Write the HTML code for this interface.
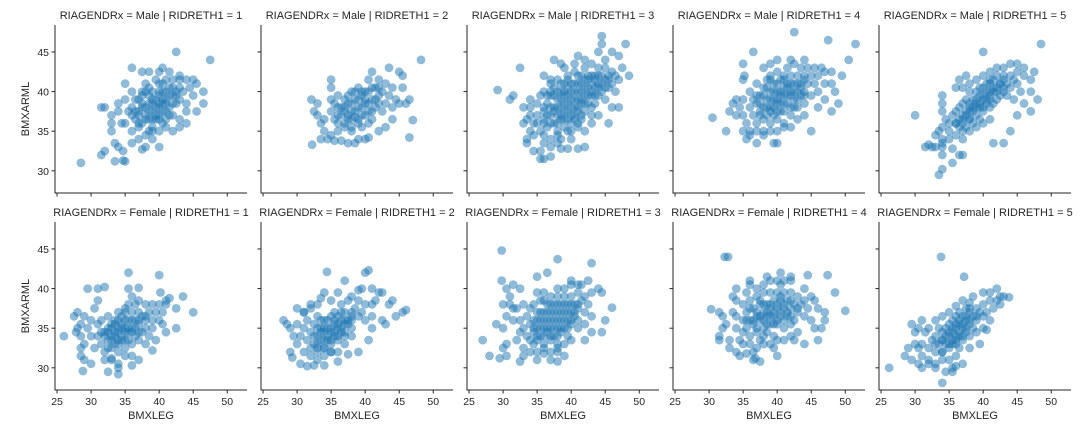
<!DOCTYPE html>
<html><head><meta charset="utf-8">
<style>
body{margin:0;background:#fff;}
svg{display:block;font-family:"Liberation Sans","DejaVu Sans",sans-serif;}
</style></head>
<body>
<svg id="chart" width="1088" height="432" viewBox="0 0 1088 432"></svg>
<script>
const panelTitles=["RIAGENDRx = Male | RIDRETH1 = 1","RIAGENDRx = Male | RIDRETH1 = 2","RIAGENDRx = Male | RIDRETH1 = 3","RIAGENDRx = Male | RIDRETH1 = 4","RIAGENDRx = Male | RIDRETH1 = 5","RIAGENDRx = Female | RIDRETH1 = 1","RIAGENDRx = Female | RIDRETH1 = 2","RIAGENDRx = Female | RIDRETH1 = 3","RIAGENDRx = Female | RIDRETH1 = 4","RIAGENDRx = Female | RIDRETH1 = 5"];
const xTicks=[25,30,35,40,45,50];
const yTicks=[30,35,40,45];
const xLabel="BMXLEG";
const yLabel="BMXARML";
const m1=[[28.5,31],[31.5,32],[32,32.5],[33.5,31.2],[34.7,31.3],[35,31.2],[33.5,33.5],[34,33],[34.7,32.5],[31.5,38],[32,38],[33,37],[36,43],[37.5,42.5],[38.5,42.5],[40.5,43],[42.5,45],[47.5,44],[46.5,40],[46.5,38.5],[45.5,37.5],[44,36],[43,35.5],[40,33],[38,33],[37.5,32.7],[35,41],[36,40],
[35,36],[35.5,37.5],[36,38],[36,35],[36.5,36.5],[37,39],[37,37],[37,35.5],[37.5,38],[37.5,36],[38,40],[38,37],[38,34.5],[38.5,38.5],[38.5,36.5],[39,40],[39,39],[39,37.5],[39,35.5],[39.5,38],[39.5,36.5],[40,41],[40,39.5],[40,38],[40,37],[40,35],[40.5,40],[40.5,38.5],[41,41.5],[41,39],[41,37.5],[41.5,40.5],[41.5,38],[42,41.5],[42,39.5],[42,37],[42.5,40],[42.5,38.5],[43,41.5],[43,39],[43.5,40],[44,41.5],[44,38.5],[44.5,40.5],[45,41.5],[45,39.5],[36.5,39],[38,41],[39.5,41.5],[41,35.5],[42,35],[36,37],[34.5,36],[34,37.5],[33,36],[33,35],[34,38.5],[35,39],[44,37.5],[43,36.5],[38.5,35],[37,34],[36,33.5],[39,34],[40.5,36],[37.5,40],[41.5,42.5],[43,42],[45.5,41],[40,42.5]];
const m1Core=[[37,37.5],[37.5,38.5],[38,36.5],[38,38],[38.5,39.5],[38.5,37.5],[39,36.5],[39,38.5],[39.5,37],[39.5,39],[40,38.5],[40,36.5],[40.5,39],[40.5,37.5],[41,38.5],[41,40],[41.5,39.5],[41.5,37],[42,38.5],[42,40.5],[38.5,40.5],[37.5,39.5],[36.5,37.5],[37,36],[40,40],[39,35],[42.5,39.5],[43,40.5],[40.5,41],[41,36.5]];
const m2=[[32.1,39],[33,38.5],[33,37],[33.5,36],[32.5,37.5],[34,36.5],[34,35],[33.5,34],[34.5,34],[35,34.5],[35.5,33.8],[36,35],[36.5,33.8],[37.5,33.5],[38.5,33.5],[39,34],[40,34],[40.5,34.2],[32.2,33.3],[35,37.5],[35.5,38.5],[35,39],[36,37],[36,39.5],[36.5,38],[37,36],[37,37.5],[37,39],[37.5,38.5],[37.5,36.5],[38,40],[38,37.5],[38,35.5],[38.5,39],[38.5,36.8],[39,38],[39,40.5],[39.5,39.5],[39.5,37],[39.5,35.5],[40,38.5],[40,40],[40.5,41.5],[40.5,37.5],[41,39],[41,36.5],[41.5,40.5],[41.5,38],[42,41.5],[42,39.5],[42.5,37.5],[42.5,40],[43,41],[43,38.5],[43.5,39.5],[44,38],[44,40.5],[44.5,39],[45,38.5],[45.5,40.5],[46,38.5],[46.5,39],[44,36.5],[43,35.5],[42,35],[41,42.5],[43.5,43],[45,42.5],[45.5,42],[35,41.5],[35,40.5],[48.2,44],[46.5,34.2],[47,36.4],[36,36],[39,36],[40.5,36]];
const m2Core=[[36.5,37],[37,38],[37.5,37],[37.5,39.5],[38,36.5],[38,38.5],[38.5,37.5],[38.5,40],[39,36.5],[39,39],[39.5,38],[39.5,40],[40,37],[40,39],[40.5,38.5],[40.5,40],[41,37.5],[41,40.5],[41.5,39],[42,38.5],[36,38],[35.5,36.5],[37,35.5],[38,35],[42,40.5]];
const m3=[[29.2,40.2],[32.5,43],[31,39],[31.5,39.5],[33,38],[33,36],[34,35],[33.5,34],[33.5,33.5],[34.5,32.5],[35.5,32.5],[35.5,31.5],[36,31.5],[37,31.8],[38.5,32.8],[39.5,32.8],[41,32.8],[42,33],[44.5,46],[44.5,47],[44,45],[45,44],[46,45],[48,46],[47,44.5],[48.5,42],[47.5,43],[46.5,40],[47,38],[45.5,36],[37.5,44],[38.5,43.5],[36,42],[37,41.5],
[35,37],[35,38.5],[35,36],[35.5,39.5],[35.5,35],[36,37.5],[36,40],[36,36.5],[36,34.5],[36.5,38.5],[36.5,35.5],[37,37],[37,39.5],[37,41],[37,34],[37.5,38],[37.5,36],[37.5,40.5],[38,37],[38,39],[38,35],[38,41.5],[38.5,38],[38.5,36.5],[38.5,40],[38.5,34],[39,37.5],[39,39.5],[39,41],[39,35.5],[39.5,38.5],[39.5,36.5],[39.5,40.5],[39.5,42],[40,37],[40,39],[40,41],[40,35],[40.5,38],[40.5,40],[40.5,36.5],[40.5,42.5],[41,39],[41,37.5],[41,41],[41,35.5],[41.5,40],[41.5,38.5],[41.5,42],[41.5,36.5],[42,39.5],[42,41.5],[42,37.5],[42,43],[42.5,40.5],[42.5,38.5],[42.5,42],[43,39.5],[43,41],[43,37],[43,43.5],[43.5,40.5],[43.5,42],[43.5,38.5],[44,41],[44,39.5],[44,43],[44.5,42],[44.5,40],[45,41.5],[45,43],[45,39],[45.5,42],[45.5,40.5],[46,42.5],[46,41],[46.5,42],[47,41.5],[34,37],[34,39],[34.5,36],[34,38],[33.5,36.5],[34.5,34.5],[36,33.5],[37,33],[38,33.5],[40,34],[42,35],[43,36],[44,37],[46,38],[42,44],[40.5,43.5],[39,43],[41,44.5]];
const m3Core=[[36,38],[36.5,37],[36.5,39.5],[37,36],[37,38],[37.5,37.5],[37.5,39.5],[38,36],[38,38],[38,40],[38.5,37],[38.5,39],[38.5,41],[39,36.5],[39,38.5],[39,40],[39.5,37.5],[39.5,39.5],[39.5,41.5],[40,36],[40,38],[40,40],[40.5,37],[40.5,39],[40.5,41],[41,38],[41,40],[41,42],[41.5,37],[41.5,39],[41.5,41],[42,38.5],[42,40.5],[42.5,39.5],[42.5,41.5],[43,38],[43,40],[43,42],[43.5,39.5],[43.5,41.5],[44,40.5],[44,42],[44.5,41],[45,40.5],[45.5,41.5],[37,40],[36,36],[38,34.5],[39.5,35],[41,36]];
const m4=[[30.5,36.7],[32.5,35],[33,37.5],[33.5,38.5],[34,37],[35,41.5],[35.2,42],[35,43.5],[36.5,45],[42.5,47.5],[47.5,46.5],[51.5,46],[50.5,44],[49.5,42],[48.5,40],[49,38.5],[48,37.5],[37,33.5],[38,34.5],[39.5,33.5],[40,33.5],[35,35],[35.5,34],[36,34.5],[45,35],
[36,38],[36,40],[36.5,37],[36.5,39],[37,41],[37,38.5],[37,36],[37.5,39.5],[37.5,37.5],[38,40.5],[38,38],[38,36.5],[38.5,39],[38.5,41.5],[38.5,37],[39,40],[39,38],[39,36],[39,42],[39.5,39],[39.5,41],[39.5,37],[40,40],[40,38.5],[40,42.5],[40,36.5],[40.5,39.5],[40.5,41.5],[40.5,37.5],[41,40.5],[41,38.5],[41,42],[41,36],[41.5,39.5],[41.5,41],[41.5,43],[42,40],[42,38],[42,42],[42,37],[42.5,41],[42.5,39],[42.5,43.5],[43,40],[43,42],[43,38],[43.5,41],[43.5,43],[43.5,39.5],[44,42],[44,40],[44,38.5],[44.5,41],[44.5,43],[45,42],[45,39.5],[45.5,41],[45.5,43],[46,42],[46,40],[46.5,43],[47,41],[47,42.5],[48,41],[48,42.5],[35,39],[35,37],[34.5,38],[34,39],[35.5,36],[36,35],[37,35],[38,35],[39,35],[40,35],[41,35.5],[42,35.5],[43,36.5],[44,37],[46,38],[47,39],[38,43],[39,43.5],[40,44],[42,44],[44,44]];
const m4Core=[[37.5,38.5],[38,39.5],[38.5,38],[38.5,40.5],[39,39],[39,37.5],[39.5,40],[39.5,38],[40,39],[40,41],[40,37.5],[40.5,40],[40.5,38.5],[41,39.5],[41,41.5],[41,37.5],[41.5,40.5],[41.5,38.5],[42,39.5],[42,41],[42.5,40],[42.5,38],[43,41],[43,39],[43.5,40.5],[44,39.5],[44,41.5],[39,41.5],[37,39.5],[37.5,37]];
const m5=[[30,37],[32,33.3],[31.5,33],[33.5,29.5],[34,30.2],[35.5,31],[34,32],[34,33],[35.5,32.8],[36.5,32],[37,32],[34,37.5],[34,38.5],[34,39.5],[36,40.5],[36.5,41.5],[37.5,42],[40,45],[48.5,46],[47.5,42.5],[48,39],[47,40],[47,37.5],[44,35],[43,33.5],[41.5,33.5],[45,37],[46,38.5],[44.5,39],
[35,36],[35,35],[35.5,37],[36,36],[36,34.5],[36,37.5],[36.5,35.5],[36.5,38],[37,36.5],[37,35],[37,38.5],[37.5,37],[37.5,39],[37.5,35.5],[38,38],[38,36.5],[38,40],[38.5,37.5],[38.5,39],[38.5,36],[39,38.5],[39,40],[39,37],[39.5,39.5],[39.5,38],[39.5,36.5],[40,39],[40,40.5],[40,37.5],[40.5,40],[40.5,38.5],[40.5,41],[41,39.5],[41,41],[41,38],[41.5,40],[41.5,41.5],[41.5,38.5],[42,40.5],[42,39],[42,42],[42.5,41],[42.5,39.5],[43,40.5],[43,42],[43.5,41],[43.5,39.5],[44,42],[44,40.5],[44.5,41.5],[45,42.5],[45,41],[45.5,40],[46,42],[46,43],[47,41.5],[34,35.5],[34,34],[33.5,35],[34.5,36.5],[33,33],[32.5,33],[33,34.5],[34,33.5],[35,34],[37,34],[38,35],[39,35.5],[40,36],[41,36.5],[37,40.5],[38,41],[39,41.5],[40,42],[41,42.5],[42,43],[43,43],[44,43.5],[45,43.5]];
const m5Core=[[36,36],[36.5,36.5],[37,37],[37.5,37.5],[38,37.5],[38,38.5],[38.5,38],[39,38],[39,39],[39.5,38.5],[40,39.5],[40,38],[40.5,39],[41,40],[41,39],[41.5,40.5],[42,40],[42.5,41],[43,41.5],[37,36],[38,36.5],[39.5,40.5],[41,41.5],[43,40]];
const f1=[[26,34],[27.5,36.5],[27.8,34.5],[28,35],[28.5,32.5],[28.5,31.5],[29,31],[28.8,29.6],[30,30.5],[29.5,40],[31,40],[31,38.5],[32,40.2],[35.5,42],[35.5,40],[37,40.1],[40,41.7],[40.2,39.5],[41,38.5],[41.5,38.8],[42.5,37.5],[43.5,39],[45,37],[42.5,35],[41,34.5],[39,32.2],[36,30.3],[34,29.2],[34,30],[32.5,29.5],[33,31.2],[40.5,35.5],[39.5,33.5],
[31,34],[31,35.5],[31.5,33],[31.5,36],[32,34.5],[32,32],[32.5,35],[32.5,33.5],[32.5,36.5],[33,34],[33,35.5],[33,32.5],[33.5,34.5],[33.5,36],[33.5,33],[34,35],[34,33.5],[34,37],[34,32],[34.5,34],[34.5,35.5],[34.5,36.5],[35,35],[35,33.5],[35,37.5],[35,32.5],[35.5,34.5],[35.5,36],[35.5,38],[36,35],[36,33],[36,37],[36.5,34],[36.5,36],[36.5,38],[37,35.5],[37,33.5],[37,37],[37.5,36.5],[37.5,34.5],[38,36],[38,38],[38,35],[38.5,37],[38.5,34],[39,36],[39,38],[39,35],[39.5,37],[40,38],[40,36],[40.5,37],[41,38],[30,34],[30,36],[29.5,35],[30.5,32.5],[30.5,37.5],[29,33],[28.5,34],[29,36.5],[28,37],[28.5,35.5],[33,31],[32,31],[35,31.5],[34,30.5],[36,31.5],[37,31],[38,33],[36,39],[37,38.5]];
const f1Core=[[32,34],[32.5,34.5],[33,33.5],[33,35],[33.5,34],[33.5,35.5],[34,34.5],[34,36],[34,33],[34.5,35],[34.5,33.5],[35,34.5],[35,36],[35.5,35],[35.5,33.5],[36,34.5],[36,36],[36.5,35],[37,36],[37,34.5],[32.5,32.5],[31.5,34.5],[35,37],[38,36.5]];
const f2=[[28,36],[28.5,35.5],[29,35],[29.5,34],[29,32],[29.3,31.3],[30.5,30.5],[31.5,30.2],[32.5,30.3],[34,30.3],[36,30.8],[37.5,31.7],[39,32],[40.5,33.5],[41,35],[43,35.5],[44.5,36.5],[45.5,37],[46,37.3],[42.5,36],[41.5,38.5],[42,39.5],[42.5,39.5],[44,38.5],[43.5,38],[34.4,42.1],[37,41],[39.5,40],[40,42],[40.5,42.3],[41,40],[30,37.5],[31,37],[32,38],[33.5,38.8],[34,39.5],
[31,35],[31.5,33.5],[31.5,36],[32,34.5],[32,32.5],[32.5,35.5],[32.5,33],[33,34],[33,36.5],[33,32],[33.5,35],[33.5,33.5],[34,34.5],[34,36],[34,32.5],[34.5,35],[34.5,33.5],[35,34.5],[35,36.5],[35,33],[35.5,35.5],[35.5,34],[35.5,37],[36,35],[36,33.5],[36,36.5],[36.5,34.5],[36.5,36],[36.5,38],[37,35.5],[37,37],[37,34],[37.5,36],[37.5,38.5],[38,35],[38,37],[38,36],[38.5,37.5],[39,36.5],[39,38.5],[39.5,37],[40,38],[40,36],[41,38],[41,36.5],[30.5,34],[30,35.5],[30,33],[31,32],[32,31.5],[33,31],[34,31.5],[35,32],[36,32],[37,33],[38,34],[31,37],[32,37.5],[33,38],[35,38.5],[36,39.5],[38,39],[39,39.8]];
const f2Core=[[32.5,34],[33,35],[33,33],[33.5,34.5],[33.5,36],[34,33.5],[34,35],[34.5,34],[34.5,36],[35,35],[35,33.5],[35.5,34.5],[35.5,36],[36,34],[36,35.5],[36.5,35],[36.5,37],[37,36],[37,34.5],[37.5,35.5],[38,36.5],[34,32.5],[35,32],[33,32.5]];
const f3=[[27,33.5],[29,35.5],[28,31.5],[29.5,31.2],[30.5,31.5],[30,32.5],[30.5,33],[30,35],[30.5,36.5],[29.8,44.8],[29.8,41],[30.5,40],[31.5,40.5],[32.5,40],[30,38],[31,39],[38,43.7],[43,43.2],[36.5,42],[35,41.5],[40,41],[41.5,40.5],[42.5,41],[44,40],[44.5,39.5],[46,37.6],[45,36],[44.5,34.5],[43,34.5],[35,31],[37,31],[33,31.5],[32.5,30.8],[38,30.8],[39,31.5],[42,33.5],
[33,35],[33.5,36.5],[33.5,34],[34,37.5],[34,35.5],[34,33.5],[34.5,36],[34.5,34.5],[34.5,38],[35,35],[35,37],[35,33.5],[35.5,36],[35.5,38.5],[35.5,34],[36,35],[36,37],[36,33],[36.5,36],[36.5,38],[36.5,34.5],[37,35],[37,37],[37,39],[37,33.5],[37.5,36],[37.5,38],[37.5,34],[38,35],[38,37],[38,39],[38,33],[38.5,36],[38.5,38],[38.5,34.5],[39,37],[39,35],[39,39],[39.5,36],[39.5,38],[39.5,34],[40,37],[40,39],[40,35.5],[40.5,38],[40.5,36.5],[41,37.5],[41,39.5],[41.5,38.5],[42,37],[42,39],[42.5,38],[43,39.5],[32.5,36],[32,37.5],[32.5,34.5],[33,38],[31.5,36],[32,33.5],[33,32.5],[34,32],[35,32],[36,31.8],[37,32],[38,32],[39,33],[40,33.5],[41,35],[42,35.5],[36,39.5],[35,39.5],[38,40],[39,40],[40,40.5],[41,40.5],[43,36.5],[31.5,37.5],[31,38]];
const f3Core=[[34.5,35],[35,36],[35,34],[35.5,35],[35.5,37],[36,36],[36,34],[36.5,35],[36.5,37],[37,36],[37,34],[37,38],[37.5,35],[37.5,37],[38,36],[38,34],[38,38],[38.5,35],[38.5,37],[39,36],[39,38],[39.5,35],[39.5,37],[40,36],[40,38],[40.5,37],[41,36],[41,38],[36,38.5],[34.5,33],[36,32.5],[38,32.5]];
const f4=[[30.3,37.4],[31.5,37],[32,36.5],[32,35],[32.5,35.5],[31.5,34],[31.5,33.5],[33,33.5],[33,32.5],[34,32],[34.5,31.5],[35.5,31.8],[36.5,31],[36.8,31.2],[37.5,30.8],[36.5,32],[39.5,32.5],[40,31.5],[42.5,33.5],[44,33],[46,33.5],[45.5,35],[46.5,35],[47,36],[47,37],[50,37.2],[48.5,39.5],[47.4,41.7],[44.5,41.7],[42,41.5],[40.5,42],[38.5,41.5],[36,41],[34,40],[33.5,39],[32.3,44],[32.8,44],[36,40.5],
[35,36],[35,38],[35,34.5],[35.5,37],[35.5,35],[36,38.5],[36,36],[36,34],[36.5,37.5],[36.5,35.5],[37,39],[37,36.5],[37,34.5],[37.5,38],[37.5,36],[37.5,33.5],[38,37],[38,39.5],[38,35],[38.5,38],[38.5,36.5],[38.5,34.5],[39,37.5],[39,39.5],[39,35.5],[39.5,38.5],[39.5,36.5],[39.5,34],[40,37.5],[40,39.5],[40,35.5],[40.5,38.5],[40.5,36.5],[40.5,40.5],[41,37.5],[41,39.5],[41,35],[41.5,38.5],[41.5,36.5],[42,37.5],[42,39.5],[42,35.5],[42.5,38],[42.5,36],[43,37],[43,39],[43.5,38],[44,36.5],[44,38.5],[44.5,37.5],[45,39],[45,36],[34,36.5],[34,38.5],[34,35],[33.5,37],[34.5,33.5],[35,33],[36,33],[37,32.5],[38,33],[39,33],[40,33.5],[41,33.5],[42,34],[43,34.5],[35.5,39.5],[37,40],[38,40.5],[39,41],[40,41],[41,41],[42,41],[44,40],[45.5,38.5],[46,37.5]];
const f4Core=[[36.5,36],[37,37],[37,35],[37.5,36.5],[37.5,38.5],[38,36],[38,38],[38.5,37],[38.5,35.5],[39,36.5],[39,38],[39.5,37],[39.5,35.5],[40,38],[40,36],[40.5,37],[40.5,39],[41,36],[41,38],[41.5,37],[42,36.5],[42,38.5],[43,37.5],[36,37.5],[35.5,36],[38,34]];
const f5=[[26.2,30],[28.5,31.5],[29,32.5],[30,34.5],[29.5,35.5],[31,36],[30.5,35],[33.8,44],[37.2,41.5],[38.5,39],[40,39.5],[41,39.5],[42,40],[43.8,38.9],[43,39],[42.5,38],[41,36],[40.5,34.8],[39.5,33],[38,32.5],[36,30.2],[35.5,29.5],[33,30],[34,28.1],[32,30.5],[31,30],[33,30.5],
[32,32.5],[32.5,33.5],[33,32],[33,34],[33.5,33],[33.5,35],[34,33.5],[34,34.5],[34,32],[34.5,35],[34.5,33],[35,34],[35,35.5],[35,32.5],[35.5,34.5],[35.5,36],[35.5,33],[36,35],[36,33.5],[36,36.5],[36.5,34],[36.5,35.5],[36.5,37],[37,35],[37,36.5],[37,33.5],[37.5,36],[37.5,34.5],[37.5,37.5],[38,35.5],[38,37],[38,34],[38.5,36.5],[38.5,35],[39,37.5],[39,36],[39.5,37],[40,36.5],[40,38],[40.5,37],[41,38.5],[41.5,37.5],[42,38.5],[42.5,39],[31,33],[31,31.5],[30.5,32.5],[31.5,34.5],[32,35],[33,36],[34,36.5],[35,37],[36,37.8],[37,38.5],[38,38.2],[34,31],[35,31],[36,31.5],[36.5,32.5],[37,30.5],[35.5,30],[34.5,29.5],[39,34.5],[40,35],[32,31],[30,33],[29.5,31],[30.5,30.5]];
const f5Core=[[34,33.5],[34.5,34],[35,33],[35,34.5],[35.5,35],[35.5,33.5],[36,34],[36,35.5],[36.5,34.5],[36.5,36],[37,35.5],[37,34],[37.5,35],[37.5,36.5],[38,36],[38,37.5],[39,36.5],[33,33],[34,32],[36,33]];
const panelData=[m1.concat(m1Core),m2.concat(m2Core),m3.concat(m3Core),m4.concat(m4Core),m5.concat(m5Core),f1.concat(f1Core),f2.concat(f2Core),f3.concat(f3Core),f4.concat(f4Core),f5.concat(f5Core)];

const NS="http://www.w3.org/2000/svg";
const svg=document.getElementById('chart');
function mk(tag,attrs,parent){const e=document.createElementNS(NS,tag);for(const k in attrs)e.setAttribute(k,attrs[k]);(parent||svg).appendChild(e);return e;}
const X0=55,XW=192,COLSTEP=206,Y0=25,YH=168,ROWSTEP=197;
const XMIN=24.7,XMAX=52.9,YMIN=27.2,YMAX=48.4;
function xs(v,c){return X0+c*COLSTEP+(v-XMIN)/(XMAX-XMIN)*XW;}
function ys(v,r){return Y0+r*ROWSTEP+YH-(v-YMIN)/(YMAX-YMIN)*YH;}

for(let i=0;i<10;i++){
  const r=Math.floor(i/5),c=i%5;
  const g=mk('g',{});
  
  
  const t=mk('text',{x:X0+c*COLSTEP+XW/2,y:Y0+r*ROWSTEP-6,'text-anchor':'middle','font-size':'11',fill:'#262626'},g);
  t.textContent=panelTitles[i];
  
  
  const pts=mk('g',{fill:'#1f77b4','fill-opacity':'0.5'},g);
  
  
  panelData[i].forEach(p=>{
    const cc=mk('circle',{cx:xs(p[0],c).toFixed(1),cy:ys(p[1],r).toFixed(1),r:4.4},pts);
    
    
  });
  const ax=mk('path',{d:`M${X0+c*COLSTEP},${Y0+r*ROWSTEP}V${Y0+r*ROWSTEP+YH}H${X0+c*COLSTEP+XW}`,stroke:'#262626','stroke-width':1,fill:'none'},g);
  
  
  xTicks.forEach(v=>{
    const x=xs(v,c),yb=Y0+r*ROWSTEP+YH;
    const tk=mk('line',{x1:x,x2:x,y1:yb,y2:yb+3.5,stroke:'#262626','stroke-width':1},g);
    
    
    if(r===1){
      const lb=mk('text',{x:x,y:yb+15,'text-anchor':'middle','font-size':'10.5',fill:'#262626'},g);
      lb.textContent=v;
      
      
    }
  });
  yTicks.forEach(v=>{
    const y=ys(v,r),xl=X0+c*COLSTEP;
    const tk=mk('line',{x1:xl-3.5,x2:xl,y1:y,y2:y,stroke:'#262626','stroke-width':1},g);
    
    
    if(c===0){
      const lb=mk('text',{x:xl-6,y:y+4,'text-anchor':'end','font-size':'10.5',fill:'#262626'},g);
      lb.textContent=v;
      
      
    }
  });
  if(r===1){
    const xl=mk('text',{x:X0+c*COLSTEP+XW/2,y:419,'text-anchor':'middle','font-size':'11',fill:'#262626'},g);
    xl.textContent=xLabel;
    
    
  }
  if(c===0){
    const cy=Y0+r*ROWSTEP+YH/2;
    const yl=mk('text',{x:29,y:cy,'text-anchor':'middle','font-size':'11',fill:'#262626',transform:`rotate(-90 29 ${cy})`},g);
    yl.textContent=yLabel;
    
    
  }
}
</script>
</body></html>
